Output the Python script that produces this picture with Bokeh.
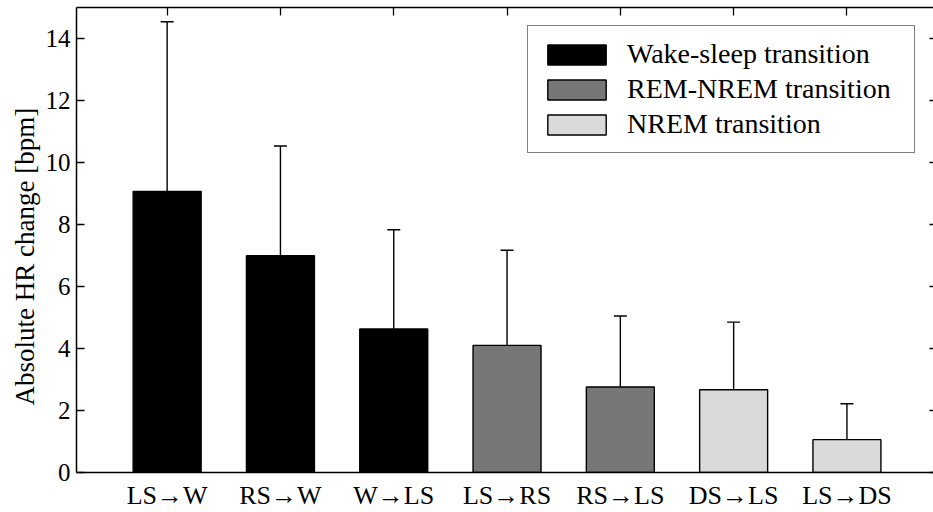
import numpy as np
from bokeh.plotting import figure
from bokeh.models import (ColumnDataSource, Range1d, FixedTicker, LinearAxis,
                          Whisker, TeeHead, Legend, LegendItem, Title)
from bokeh.embed import file_html
from bokeh.resources import INLINE

# ---- data ----
categories = ["LS→W", "RS→W", "W→LS", "LS→RS", "RS→LS", "DS→LS", "LS→DS"]
means = [9.07, 6.99, 4.63, 4.10, 2.76, 2.67, 1.06]
sds = [5.47, 3.54, 3.20, 3.07, 2.29, 2.18, 1.16]
groups = ["Wake-sleep transition", "Wake-sleep transition", "Wake-sleep transition",
          "REM-NREM transition", "REM-NREM transition",
          "NREM transition", "NREM transition"]
group_names = ["Wake-sleep transition", "REM-NREM transition", "NREM transition"]
group_colors = ["#000000", "#777777", "#dadada"]
y_ticks = [0, 2, 4, 6, 8, 10, 12, 14]
y_label = "Absolute HR change [bpm]"

xpos = list(range(1, len(categories) + 1))
FONT = "Liberation Serif"

p = figure(width=933, height=512, output_backend="svg", toolbar_location=None,
           x_range=Range1d(0.2, 7.764), y_range=Range1d(0, 15),
           min_border_left=76, min_border_right=0, min_border_top=7,
           min_border_bottom=40)
p.outline_line_color = None
p.grid.visible = False
p.background_fill_color = "white"

# bars per group
items = []
for g, c in zip(group_names, group_colors):
    idx = [i for i, gg in enumerate(groups) if gg == g]
    src = ColumnDataSource(dict(x=[xpos[i] for i in idx], top=[means[i] for i in idx]))
    r = p.vbar(x="x", top="top", width=0.6, bottom=0, source=src,
               fill_color=c, line_color="black", line_width=1.4)
    items.append(LegendItem(label=g, renderers=[r]))

# error bars (upper only)
esrc = ColumnDataSource(dict(x=xpos, lo=means, up=[m + s for m, s in zip(means, sds)]))
wh = Whisker(source=esrc, base="x", lower="lo", upper="up", dimension="height",
             line_color="black", line_width=1.4, lower_head=None,
             upper_head=TeeHead(size=13, line_color="black", line_width=1.4))
p.add_layout(wh)

# axes
yax = p.yaxis[0]
yax.ticker = FixedTicker(ticks=y_ticks, minor_ticks=[])
yax.major_tick_in = 8
yax.major_tick_out = 0
yax.axis_line_width = 1.5
yax.major_tick_line_width = 1.3
yax.major_label_text_font = FONT
yax.major_label_text_font_size = "25px"
yax.major_label_text_color = "black"
yax.major_label_standoff = 6

ytitle = Title(text=y_label, align="left", offset=67, standoff=6,
               text_font=FONT, text_font_size="27px", text_font_style="normal",
               text_color="black")
p.add_layout(ytitle, "left")

xax = p.xaxis[0]
xax.ticker = FixedTicker(ticks=xpos, minor_ticks=[])
xax.major_label_overrides = {x: c for x, c in zip(xpos, categories)}
xax.major_tick_in = 0
xax.major_tick_out = 0
xax.axis_line_width = 1.5
xax.major_label_text_font = FONT
xax.major_label_text_font_size = "26px"
xax.major_label_text_color = "black"
xax.major_label_standoff = 8

top = LinearAxis(ticker=FixedTicker(ticks=xpos, minor_ticks=[]),
                 major_tick_in=8, major_tick_out=0, axis_line_width=1.5,
                 major_tick_line_width=1.3,
                 major_label_text_font_size="1px", major_label_text_color=None,
                 major_label_standoff=0)
p.add_layout(top, "above")

right = LinearAxis(ticker=FixedTicker(ticks=y_ticks, minor_ticks=[]),
                   major_tick_in=4, major_tick_out=0, axis_line_color=None,
                   major_tick_line_width=1.3,
                   major_label_text_font_size="1px", major_label_text_color=None,
                   major_label_standoff=0)
p.add_layout(right, "right")

legend = Legend(items=items, location=(451, 319),
                glyph_width=73, glyph_height=25, label_standoff=14,
                label_text_font=FONT, label_text_font_size="28px",
                label_text_color="black", label_height=25, label_width=275,
                spacing=3, padding=12, margin=0,
                border_line_color="black", border_line_width=1.5,
                background_fill_alpha=1.0)
p.add_layout(legend)

open("out.html", "w").write(file_html(p, INLINE))
